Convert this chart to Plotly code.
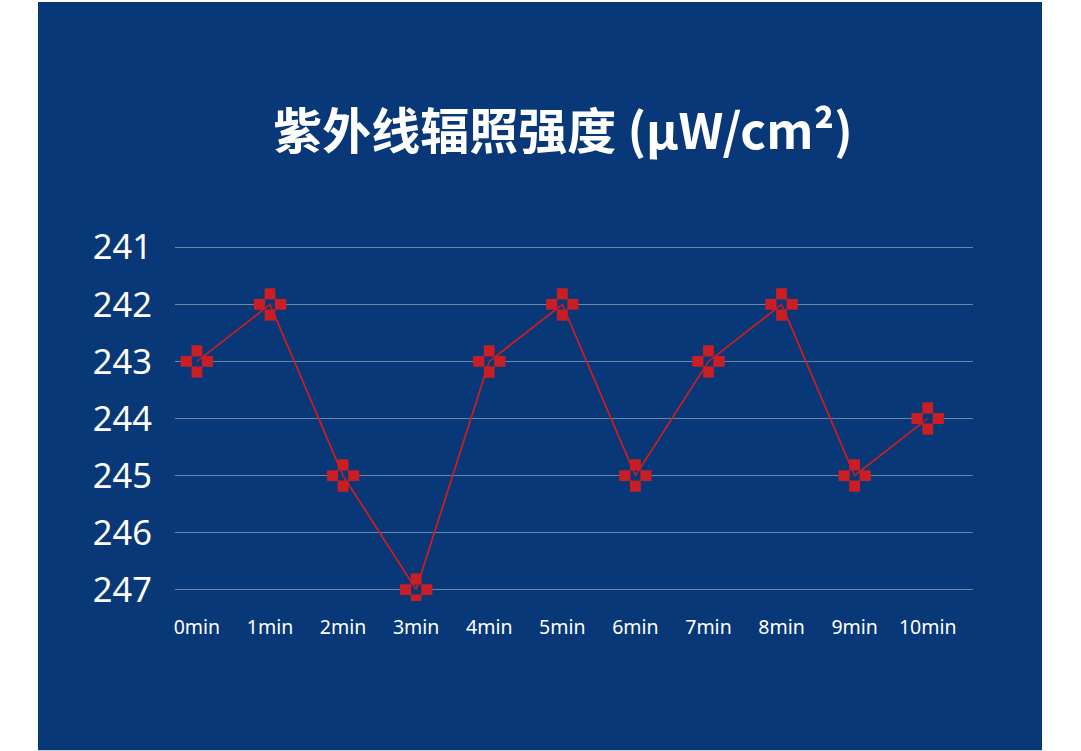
import plotly.graph_objects as go

categories = ["0min", "1min", "2min", "3min", "4min", "5min", "6min", "7min", "8min", "9min", "10min"]
values = [243, 242, 245, 247, 243, 242, 245, 243, 242, 245, 244]
y_ticks = [241, 242, 243, 244, 245, 246, 247]
title_text = "紫外线辐照强度 (μW/cm²)"

W, H = 1081, 751
L, R = 175, 973
T, B = 235.6, 601.4
BG = "#083877"
RED = "#c81e24"

x_idx = list(range(len(categories)))

fig = go.Figure()
fig.add_trace(go.Scatter(
    x=x_idx, y=values, mode="lines+markers",
    line=dict(color=RED, width=1.5),
    marker=dict(symbol="cross", size=27, color=RED, line=dict(width=0)),
    hoverinfo="skip",
))
fig.add_trace(go.Scatter(
    x=x_idx, y=values, mode="markers",
    marker=dict(symbol="square", size=10, color=BG, line=dict(width=0)),
    hoverinfo="skip",
))
fig.add_trace(go.Scatter(
    x=x_idx, y=values, mode="lines",
    line=dict(color=RED, width=1.5),
    hoverinfo="skip",
))

pw = R - L
ph = B - T
fig.add_shape(type="rect", xref="paper", yref="paper",
              x0=(38 - L) / pw, x1=(1042 - L) / pw,
              y0=-(H - B) / ph, y1=1 + (T - 1) / ph,
              fillcolor=BG, line=dict(width=0), layer="below")

fig.update_layout(
    width=W, height=H,
    margin=dict(l=L, r=W - R, t=T, b=H - B, pad=0),
    paper_bgcolor="white", plot_bgcolor="rgba(0,0,0,0)",
    showlegend=False,
    font=dict(family="Noto Sans CJK SC, Noto Sans, sans-serif", color="white"),
    title=dict(text="<b>" + title_text + "</b>", x=(563 - L) / pw, xref="paper", xanchor="center",
               y=1 - 132 / H, yanchor="middle",
               font=dict(size=49, color="white", family="Noto Sans CJK SC")),
    xaxis=dict(range=[-0.3, 10.62], tickmode="array", tickvals=x_idx, ticktext=categories,
               showgrid=False, zeroline=False, showline=False, ticks="",
               tickfont=dict(size=19.5, color="white", family="Noto Sans"), ticklabelstandoff=12),
    yaxis=dict(range=[247.2, 240.8], tickmode="array", tickvals=y_ticks,
               ticktext=[str(v) for v in y_ticks],
               showgrid=True, gridcolor="#6a84aa", gridwidth=1, zeroline=False, showline=False,
               ticks="", tickfont=dict(size=34.5, color="white", family="Noto Sans"),
               ticklabelstandoff=22),
)

fig.write_html("out.html", config={"displayModeBar": False},
               post_script="document.body.style.margin='0';document.body.style.overflow='hidden';")
